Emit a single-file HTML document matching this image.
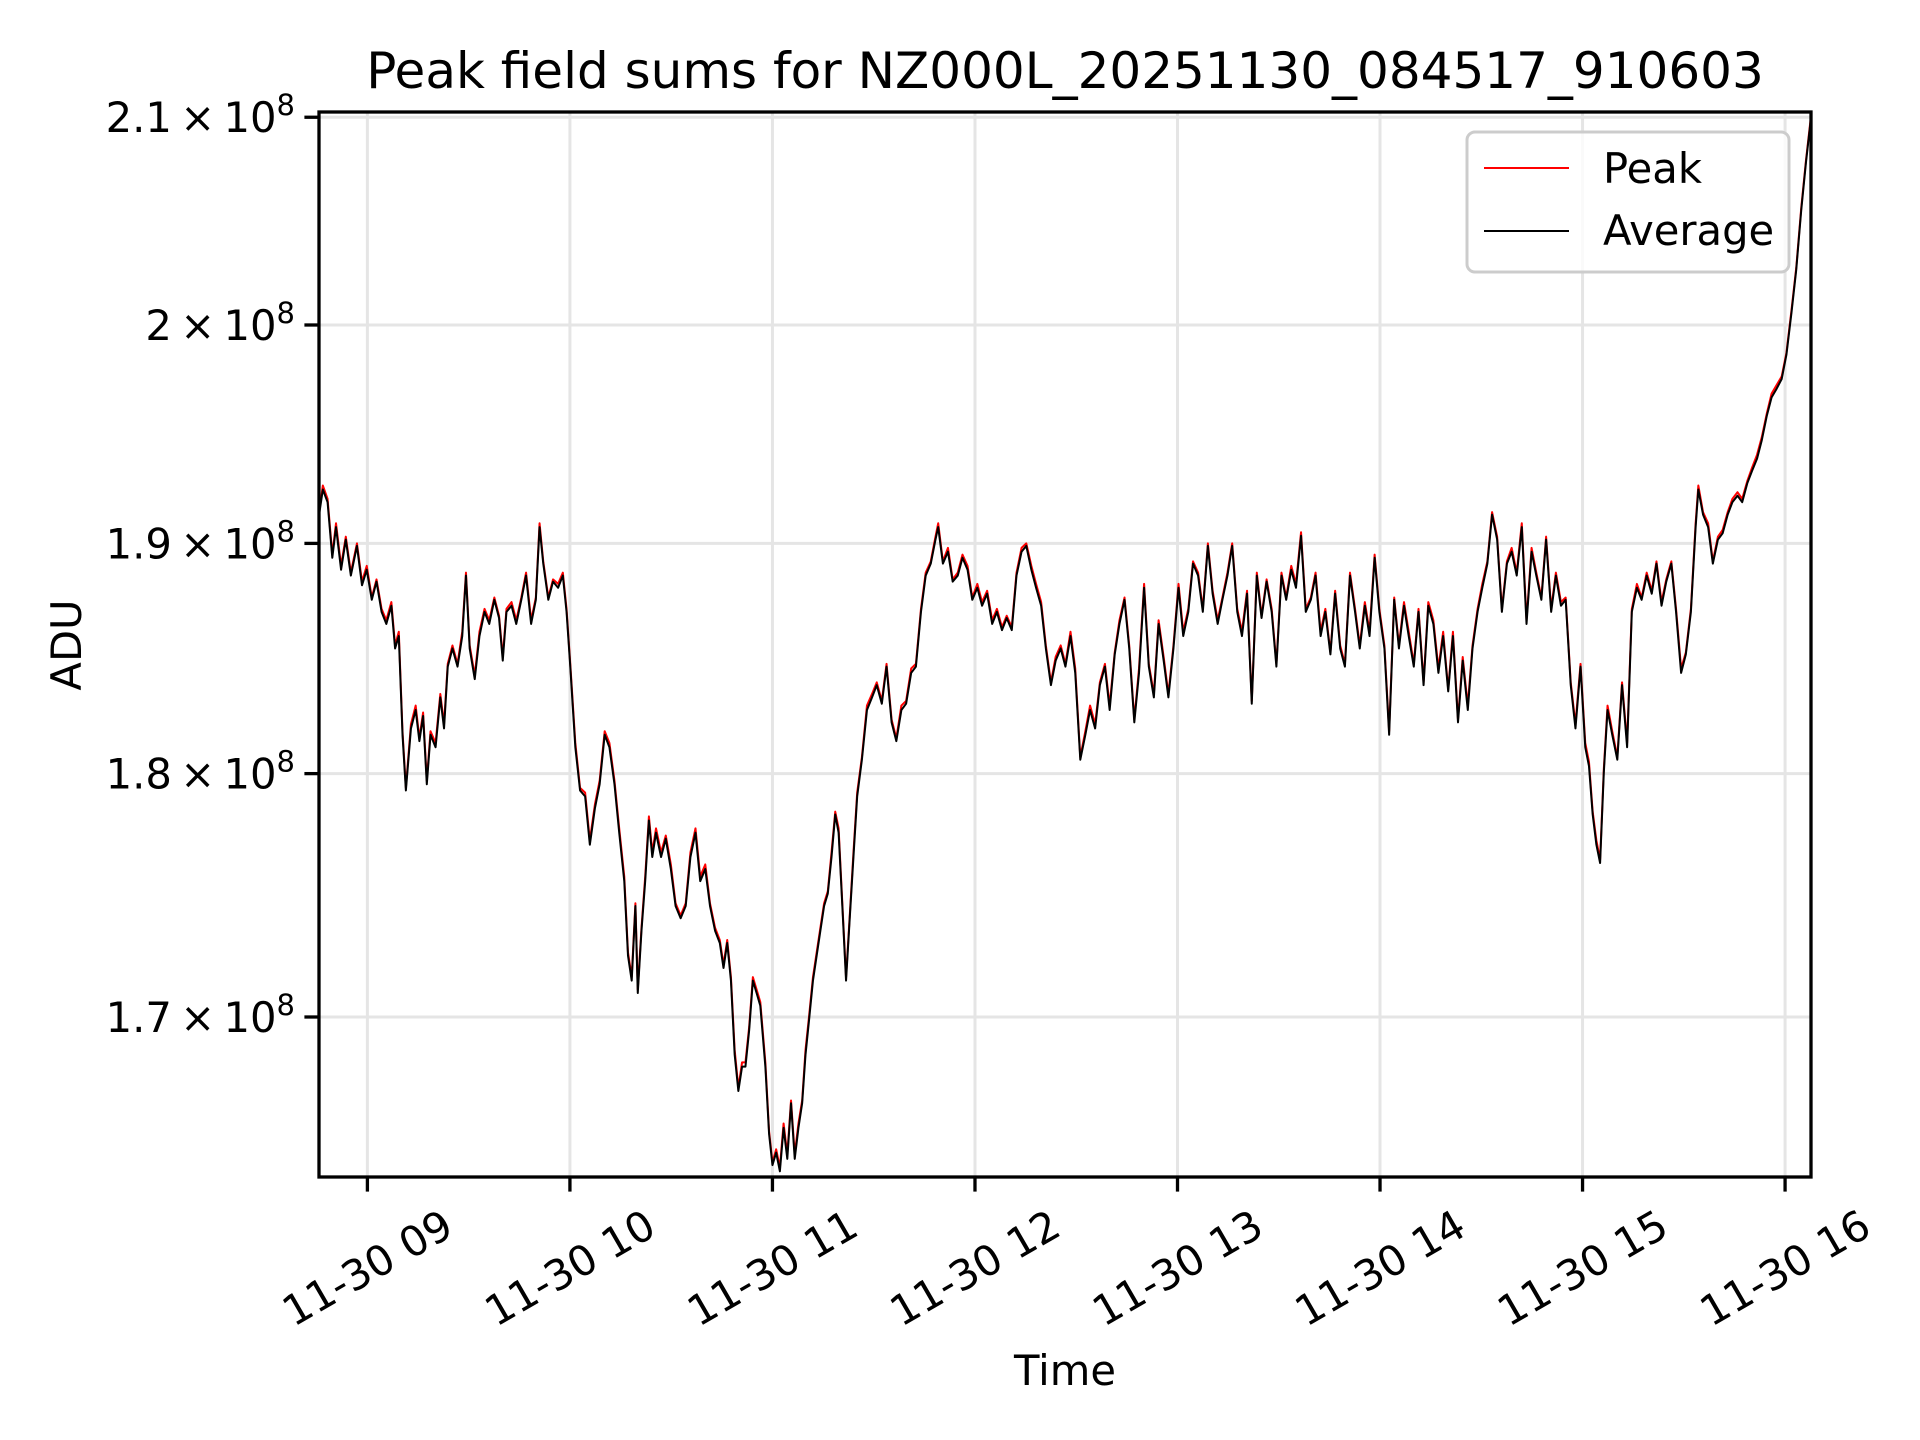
<!DOCTYPE html>
<html><head><meta charset="utf-8">
<style>
html,body{margin:0;padding:0;background:#fff;}
svg{display:block;font-family:"DejaVu Sans","Liberation Sans",sans-serif;}
</style></head>
<body>
<svg id="chart" width="1920" height="1440" viewBox="0 0 1920 1440" xmlns="http://www.w3.org/2000/svg">
<rect width="1920" height="1440" fill="#fff"/>
<text x="1065" y="88" font-size="50" text-anchor="middle">Peak field sums for NZ000L_20251130_084517_910603</text>
<g id="grid"></g>
<g id="series"></g>
<rect x="319" y="112" width="1492" height="1065" fill="none" stroke="#000" stroke-width="3.3"/>
<g id="xaxis"></g>
<g id="yaxis"></g>
<text x="1065" y="1385" font-size="41.7" text-anchor="middle">Time</text>
<text x="0" y="0" font-size="41.7" text-anchor="middle" transform="translate(81,645) rotate(-90)">ADU</text>
<g>
<rect x="1467" y="132" width="322" height="140" rx="8" fill="#fff" fill-opacity="0.8" stroke="#cccccc" stroke-width="3"/>
<line x1="1484" y1="168" x2="1569" y2="168" stroke="#ff0000" stroke-width="2"/>
<text x="1603" y="183" font-size="41.7">Peak</text>
<line x1="1484" y1="231" x2="1569" y2="231" stroke="#000" stroke-width="2"/>
<text x="1603" y="245" font-size="41.7">Average</text>
</g>
</svg>
<script>
// time axis: hours of day
const xTickHours = [9,10,11,12,13,14,15,16];
const xTickLabels = ["11-30 09","11-30 10","11-30 11","11-30 12","11-30 13","11-30 14","11-30 15","11-30 16"];
// y axis values (units of 1e8 ADU)
const yTickValues = [1.7,1.8,1.9,2.0,2.1];
const yTickMantissas = ["1.7","1.8","1.9","2","2.1"];
// x-axis limits (hours)
const startHour = 8.761;
const endHour = 16.128;
// sample times: minutes after 08:00
const sampleMinutes = [45.7,46.8,48.2,49.6,50.7,52.2,53.6,55.1,56.9,58.4,59.8,61.3,62.7,64.2,65.6,67.1,68.2,69.3,70.4,71.4,72.9,74.3,75.4,76.5,77.6,78.7,80.2,81.6,82.7,83.8,85.2,86.7,88.1,89.2,90.3,91.8,93.2,94.7,96.1,97.6,99.0,100.1,101.2,102.7,104.1,105.6,107.0,108.5,109.9,111.0,112.1,113.6,115.0,116.5,117.9,119.0,120.1,121.6,123.0,124.5,125.9,127.4,128.8,130.3,131.7,133.2,134.6,136.1,137.2,138.3,139.4,140.1,141.2,142.3,143.4,144.4,145.5,147.0,148.4,149.9,151.3,152.8,154.3,155.7,157.2,158.6,160.1,161.5,163.0,164.4,165.5,166.6,167.7,168.8,169.9,171.0,172.0,173.1,174.2,175.3,176.4,177.9,179.0,180.0,181.1,182.2,183.3,184.4,185.5,186.6,187.7,188.8,189.8,190.9,192.0,193.1,194.2,195.3,196.4,197.5,198.6,199.6,200.7,201.8,202.9,204.0,205.1,206.5,208.0,209.5,210.9,212.4,213.8,215.3,216.7,218.2,219.6,221.1,222.5,224.0,225.4,226.9,228.3,229.1,230.5,232.0,233.4,234.9,236.3,237.8,239.2,240.7,242.1,243.6,245.1,246.5,248.0,249.4,250.9,252.3,253.8,255.2,256.7,258.1,259.6,261.0,262.5,263.9,265.4,266.8,268.3,269.7,271.2,272.7,274.1,275.6,277.0,278.5,279.9,281.4,282.8,284.3,285.7,287.2,288.6,290.1,291.5,293.0,294.4,295.9,297.3,298.8,300.3,301.7,303.2,304.6,306.1,307.5,309.0,310.4,311.9,313.3,314.8,316.2,317.7,319.1,320.6,322.0,323.5,324.9,326.4,327.9,329.3,330.8,332.2,333.7,335.1,336.6,338.0,339.5,340.9,342.4,343.8,345.3,346.7,348.2,349.6,351.1,352.6,354.0,355.5,356.9,358.4,359.8,361.3,362.7,364.2,365.6,367.1,368.5,370.0,371.4,372.9,374.3,375.8,377.3,378.7,380.2,381.6,383.1,384.5,386.0,387.4,388.9,390.3,391.8,393.2,394.7,396.1,397.6,399.0,400.5,402.0,403.4,404.9,406.3,407.8,409.2,410.7,412.1,413.6,415.0,416.5,417.9,419.4,420.8,421.9,423.0,424.1,425.2,426.3,427.4,428.8,430.3,431.7,433.2,434.6,436.1,437.5,439.0,440.5,441.9,443.4,444.8,446.3,447.7,449.2,450.6,452.1,453.5,454.3,455.7,457.2,458.6,460.1,461.5,463.0,464.4,465.9,467.3,468.8,470.2,471.7,473.1,474.6,476.0,477.5,479.0,480.4,481.9,483.3,484.8,486.2,487.7];
// Average series (×1e8 ADU)
const averageValues = [1.9129,1.9242,1.9185,1.8936,1.9073,1.8883,1.9017,1.8857,1.8989,1.8814,1.8883,1.8750,1.8830,1.8697,1.8644,1.8724,1.8537,1.8591,1.8165,1.7929,1.8192,1.8271,1.8138,1.8245,1.7955,1.8165,1.8112,1.8325,1.8192,1.8458,1.8537,1.8458,1.8591,1.8857,1.8537,1.8404,1.8591,1.8697,1.8644,1.8750,1.8670,1.8484,1.8697,1.8724,1.8644,1.8750,1.8857,1.8644,1.8750,1.9073,1.8910,1.8750,1.8830,1.8803,1.8857,1.8697,1.8458,1.8112,1.7929,1.7904,1.7702,1.7854,1.7955,1.8165,1.8112,1.7955,1.7752,1.7551,1.7247,1.7146,1.7449,1.7096,1.7348,1.7551,1.7803,1.7651,1.7752,1.7651,1.7727,1.7601,1.7449,1.7399,1.7449,1.7651,1.7752,1.7551,1.7601,1.7449,1.7348,1.7298,1.7197,1.7298,1.7146,1.6851,1.6707,1.6803,1.6803,1.6947,1.7146,1.7096,1.7045,1.6803,1.6539,1.6419,1.6467,1.6395,1.6563,1.6443,1.6659,1.6443,1.6563,1.6659,1.6851,1.6995,1.7146,1.7247,1.7348,1.7449,1.7500,1.7651,1.7828,1.7752,1.7449,1.7146,1.7399,1.7651,1.7904,1.8059,1.8271,1.8325,1.8378,1.8298,1.8458,1.8218,1.8138,1.8271,1.8298,1.8431,1.8458,1.8697,1.8857,1.8910,1.9017,1.9073,1.8910,1.8963,1.8830,1.8857,1.8936,1.8883,1.8750,1.8803,1.8724,1.8777,1.8644,1.8697,1.8617,1.8670,1.8617,1.8857,1.8963,1.8989,1.8883,1.8803,1.8724,1.8537,1.8378,1.8484,1.8537,1.8458,1.8591,1.8431,1.8059,1.8165,1.8271,1.8192,1.8378,1.8458,1.8271,1.8511,1.8644,1.8750,1.8537,1.8218,1.8431,1.8803,1.8458,1.8325,1.8644,1.8484,1.8325,1.8537,1.8803,1.8591,1.8697,1.8910,1.8857,1.8697,1.8989,1.8777,1.8644,1.8750,1.8857,1.8989,1.8697,1.8591,1.8777,1.8298,1.8857,1.8670,1.8830,1.8697,1.8458,1.8857,1.8750,1.8883,1.8803,1.9034,1.8697,1.8750,1.8857,1.8591,1.8697,1.8511,1.8777,1.8537,1.8458,1.8857,1.8697,1.8537,1.8724,1.8591,1.8936,1.8697,1.8537,1.8165,1.8750,1.8537,1.8724,1.8591,1.8458,1.8697,1.8378,1.8724,1.8644,1.8431,1.8591,1.8351,1.8591,1.8218,1.8484,1.8271,1.8537,1.8697,1.8803,1.8910,1.9129,1.9017,1.8697,1.8910,1.8963,1.8857,1.9073,1.8644,1.8963,1.8857,1.8750,1.9017,1.8697,1.8857,1.8724,1.8750,1.8378,1.8192,1.8458,1.8112,1.8032,1.7828,1.7702,1.7626,1.8005,1.8271,1.8165,1.8059,1.8378,1.8112,1.8697,1.8803,1.8750,1.8857,1.8777,1.8910,1.8724,1.8830,1.8910,1.8697,1.8431,1.8511,1.8697,1.9073,1.9242,1.9129,1.9073,1.8910,1.9017,1.9045,1.9129,1.9185,1.9214,1.9185,1.9270,1.9326,1.9382,1.9466,1.9579,1.9663,1.9703,1.9748,1.9861,2.0058,2.0260,2.0549,2.0780,2.1000];
// Peak series (×1e8 ADU)
const peakValues = [1.914,1.926,1.920,1.895,1.909,1.890,1.903,1.887,1.900,1.883,1.890,1.876,1.884,1.871,1.866,1.874,1.855,1.861,1.818,1.794,1.821,1.829,1.815,1.826,1.797,1.818,1.813,1.834,1.821,1.847,1.855,1.847,1.861,1.887,1.855,1.842,1.861,1.871,1.866,1.876,1.868,1.850,1.871,1.874,1.866,1.876,1.887,1.866,1.876,1.909,1.892,1.876,1.884,1.882,1.887,1.871,1.847,1.813,1.794,1.792,1.772,1.787,1.797,1.818,1.813,1.797,1.777,1.757,1.726,1.716,1.746,1.711,1.736,1.757,1.782,1.767,1.777,1.767,1.774,1.762,1.746,1.741,1.746,1.767,1.777,1.757,1.762,1.746,1.736,1.731,1.721,1.731,1.716,1.687,1.672,1.682,1.682,1.696,1.716,1.711,1.706,1.682,1.655,1.643,1.648,1.641,1.658,1.646,1.667,1.646,1.658,1.667,1.687,1.701,1.716,1.726,1.736,1.746,1.751,1.767,1.784,1.777,1.746,1.716,1.741,1.767,1.792,1.807,1.829,1.834,1.839,1.831,1.847,1.823,1.815,1.829,1.831,1.845,1.847,1.871,1.887,1.892,1.903,1.909,1.892,1.898,1.884,1.887,1.895,1.890,1.876,1.882,1.874,1.879,1.866,1.871,1.863,1.868,1.863,1.887,1.898,1.900,1.890,1.882,1.874,1.855,1.839,1.850,1.855,1.847,1.861,1.845,1.807,1.818,1.829,1.821,1.839,1.847,1.829,1.852,1.866,1.876,1.855,1.823,1.845,1.882,1.847,1.834,1.866,1.850,1.834,1.855,1.882,1.861,1.871,1.892,1.887,1.871,1.900,1.879,1.866,1.876,1.887,1.900,1.871,1.861,1.879,1.831,1.887,1.868,1.884,1.871,1.847,1.887,1.876,1.890,1.882,1.905,1.871,1.876,1.887,1.861,1.871,1.852,1.879,1.855,1.847,1.887,1.871,1.855,1.874,1.861,1.895,1.871,1.855,1.818,1.876,1.855,1.874,1.861,1.847,1.871,1.839,1.874,1.866,1.845,1.861,1.836,1.861,1.823,1.850,1.829,1.855,1.871,1.882,1.892,1.914,1.903,1.871,1.892,1.898,1.887,1.909,1.866,1.898,1.887,1.876,1.903,1.871,1.887,1.874,1.876,1.839,1.821,1.847,1.813,1.805,1.784,1.772,1.764,1.802,1.829,1.818,1.807,1.839,1.813,1.871,1.882,1.876,1.887,1.879,1.892,1.874,1.884,1.892,1.871,1.845,1.852,1.871,1.909,1.926,1.914,1.909,1.892,1.903,1.906,1.914,1.920,1.923,1.920,1.928,1.934,1.940,1.948,1.959,1.968,1.972,1.976,1.987,2.007,2.027,2.056,2.079,2.101];

const NS = "http://www.w3.org/2000/svg";
const PL = 319, PR = 1811, PT = 112, PB = 1177;
function xScale(h){ return PL + (h - startHour) / (endHour - startHour) * (PR - PL); }
function yScale(v){ return 1017 - 4258 * Math.log(v / 1.7); }
function mk(tag, attrs, parent){ const e = document.createElementNS(NS, tag); for (const k in attrs) e.setAttribute(k, attrs[k]); parent.appendChild(e); return e; }

const grid = document.getElementById('grid');
const xaxis = document.getElementById('xaxis');
const yaxis = document.getElementById('yaxis');
const series = document.getElementById('series');

xTickHours.forEach((h, i) => {
  const x = xScale(h);
  const g = mk('line', {x1:x, y1:PT, x2:x, y2:PB, stroke:'#e5e5e5', 'stroke-width':3}, grid);
  
  
  const t = mk('line', {x1:x, y1:PB, x2:x, y2:PB+14.6, stroke:'#000', 'stroke-width':3.3}, xaxis);
  
  
  const lbl = mk('text', {x:0, y:0, 'font-size':41.7, 'text-anchor':'middle', 'dominant-baseline':'central', transform:'translate(' + x + ',1268) rotate(-30)'}, xaxis);
  lbl.textContent = xTickLabels[i];
  
  
});

yTickValues.forEach((v, i) => {
  const y = yScale(v);
  if (y > PT + 1) {
    const g = mk('line', {x1:PL, y1:y, x2:PR, y2:y, stroke:'#e5e5e5', 'stroke-width':3}, grid);
    
    
  }
  const t = mk('line', {x1:PL-14.6, y1:y, x2:PL, y2:y, stroke:'#000', 'stroke-width':3.3}, yaxis);
  
  
  const lbl = mk('text', {x:295, y:y+15, 'font-size':41.7, 'text-anchor':'end'}, yaxis);
  
  
  const a = mk('tspan', {}, lbl); a.textContent = yTickMantissas[i] + '\u2009\u00d7\u200910';
  const b = mk('tspan', {dy:-17, 'font-size':29}, lbl); b.textContent = '8';
});

function drawSeries(values, color, name){
  const n = Math.min(values.length, sampleMinutes.length);
  let d = '';
  for (let i = 0; i < n; i++) {
    const h = 8 + sampleMinutes[i] / 60;
    d += (i ? 'L' : 'M') + xScale(h).toFixed(2) + ' ' + yScale(values[i]).toFixed(2);
  }
  const p = mk('path', {d:d, fill:'none', stroke:color, 'stroke-width':2, 'stroke-linejoin':'round'}, series);
  
  
}
const clip = mk('clipPath', {id:'plotclip'}, document.getElementById('chart'));
mk('rect', {x:PL, y:PT, width:PR-PL, height:PB-PT}, clip);
series.setAttribute('clip-path', 'url(#plotclip)');
drawSeries(peakValues, '#ff0000', 'peak-line');
drawSeries(averageValues, '#000000', 'average-line');
</script>
</body></html>
